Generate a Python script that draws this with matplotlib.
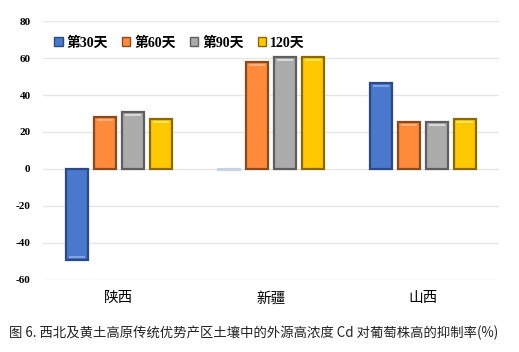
import matplotlib
matplotlib.use("Agg")
import matplotlib.pyplot as plt
import numpy as np
from matplotlib.patches import Patch

categories = ["陕西", "新疆", "山西"]
series_names = ["第30天", "第60天", "第90天", "120天"]
day30 = [-49.2, -0.3, 46.3]
day60 = [27.9, 57.8, 25.2]
day90 = [30.6, 60.5, 25.2]
day120 = [26.8, 60.5, 27.0]
yticks = [-60, -40, -20, 0, 20, 40, 60, 80]
caption = "图 6. 西北及黄土高原传统优势产区土壤中的外源高浓度 Cd 对葡萄株高的抑制率(%)"

faces = ["#4A78CC", "#FF8A3A", "#ABABAB", "#FFC800"]
edges = ["#2A4A86", "#8A4A1C", "#5E5E5E", "#8A6A00"]
lights = ["#7FA3E6", "#FFB07A", "#D8D8D8", "#FFE45A"]

serif = ["Liberation Serif", "Noto Sans CJK SC"]

fig = plt.figure(figsize=(5.19, 3.52), dpi=100)
ax = fig.add_axes([0.083, 0.205, 0.878, 0.735])

x = np.arange(len(categories))
slot = 0.184
width = 0.145
data = [day30, day60, day90, day120]
for i, vals in enumerate(data):
    pos = x + (i - 1.5) * slot
    vals_arr = np.array(vals)
    big = np.abs(vals_arr) >= 2
    ax.bar(pos, vals_arr, width=width, color=faces[i],
           edgecolor=[edges[i] if b else "#C9D3E6" for b in big],
           linewidth=1.6, zorder=3)
    # bevel highlight strip at the bar end
    sign = np.where(vals_arr >= 0, 1.0, -1.0)
    strip_h = np.where(big, -1.2 * sign, 0.0)
    strip_b = vals_arr - np.where(big, 1.0 * sign, 0.0)
    ax.bar(pos, strip_h, bottom=strip_b, width=width * 0.75,
           color=lights[i], linewidth=0, zorder=4)

ax.set_ylim(-60, 80)
ax.set_xlim(-0.5, 2.5)
ax.set_yticks(yticks)
ax.set_yticklabels([str(t) for t in yticks], fontfamily=serif, fontweight="bold", fontsize=8)
ax.set_xticks(x)
ax.set_xticklabels(categories, fontfamily=serif, fontsize=10.5)
ax.tick_params(axis="both", length=0)
ax.tick_params(axis="y", pad=9)
ax.tick_params(axis="x", pad=9)
ax.grid(axis="y", color="#E6E6E6", linewidth=1.0, zorder=0)
for s in ax.spines.values():
    s.set_visible(False)

handles = [Patch(facecolor=faces[i], edgecolor=edges[i], linewidth=1.0) for i in range(4)]
leg = ax.legend(handles, series_names, loc="center left", bbox_to_anchor=(0.0, 0.915),
                ncol=4, frameon=False, prop={"family": serif, "size": 10, "weight": "bold"},
                handlelength=0.6, handleheight=0.6, handletextpad=0.3, columnspacing=1.0,
                borderaxespad=0.4)

fig.text(0.018, 0.055, caption, fontfamily=["Noto Sans CJK SC", "DejaVu Sans"], fontsize=9.6,
         ha="left", va="center", color="#222222")

fig.savefig("out.png", dpi=100, facecolor="white")
